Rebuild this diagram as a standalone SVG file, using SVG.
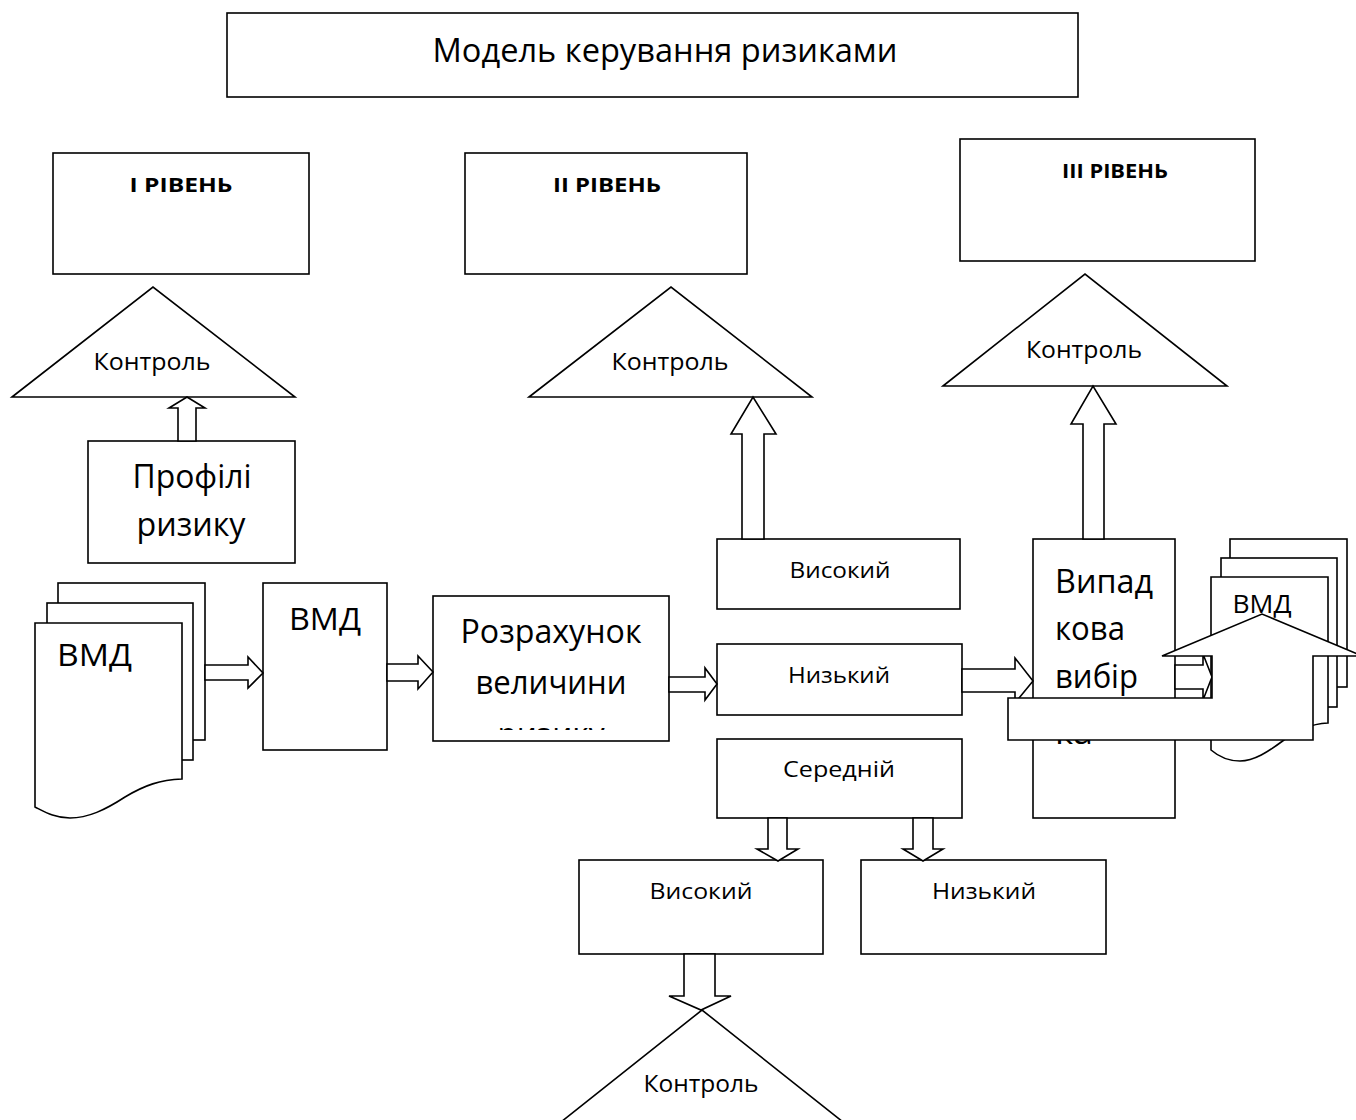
<svg xmlns="http://www.w3.org/2000/svg" width="1356" height="1120" viewBox="0 0 1356 1120">
<style>
.s{fill:#fff;stroke:#000;stroke-width:1.6;stroke-linejoin:miter}
.t{font-family:"Open Sans","Noto Sans","DejaVu Sans",sans-serif;fill:#000}
.c{text-anchor:middle}
.b{font-weight:bold}
</style>
<defs>
<clipPath id="clipCalc"><rect x="433" y="596" width="236" height="134"/></clipPath>
</defs>
<rect width="1356" height="1120" fill="#fff"/>

<g id="title">
<rect class="s" x="227" y="13" width="851" height="84"/>
<text class="t c" x="665" y="62" font-size="33" textLength="465" lengthAdjust="spacingAndGlyphs">Модель керування ризиками</text>
</g>

<g id="level1">
<rect class="s" x="53" y="153" width="256" height="121"/>
<text class="t c b" x="181" y="192" font-size="20" textLength="103" lengthAdjust="spacingAndGlyphs">І РІВЕНЬ</text>
</g>
<g id="level2">
<rect class="s" x="465" y="153" width="282" height="121"/>
<text class="t c b" x="607" y="192" font-size="20" textLength="108" lengthAdjust="spacingAndGlyphs">ІІ РІВЕНЬ</text>
</g>
<g id="level3">
<rect class="s" x="960" y="139" width="295" height="122"/>
<text class="t c b" x="1115" y="178" font-size="20" textLength="106" lengthAdjust="spacingAndGlyphs">ІІІ РІВЕНЬ</text>
</g>

<g id="control1">
<polygon class="s" points="12,397 153,287 295,397"/>
<text class="t c" x="152" y="370" font-size="24" textLength="117" lengthAdjust="spacingAndGlyphs">Контроль</text>
</g>
<g id="control2">
<polygon class="s" points="529,397 671,287 812,397"/>
<text class="t c" x="670" y="370" font-size="24" textLength="117" lengthAdjust="spacingAndGlyphs">Контроль</text>
</g>
<g id="control3">
<polygon class="s" points="943,386 1085,274 1227,386"/>
<text class="t c" x="1084" y="358" font-size="24" textLength="116" lengthAdjust="spacingAndGlyphs">Контроль</text>
</g>
<g id="control4">
<polygon class="s" points="561,1122 702,1010 843,1122"/>
<text class="t c" x="701" y="1092" font-size="24" textLength="115" lengthAdjust="spacingAndGlyphs">Контроль</text>
</g>

<g id="profiles">
<rect class="s" x="88" y="441" width="207" height="122"/>
<text class="t c" x="192" y="488" font-size="32" textLength="119" lengthAdjust="spacingAndGlyphs">Профілі</text>
<text class="t c" x="191" y="536" font-size="32" textLength="109" lengthAdjust="spacingAndGlyphs">ризику</text>
</g>

<g id="docs-left">
<rect class="s" x="58" y="583" width="147" height="157"/>
<rect class="s" x="47" y="603" width="146" height="157"/>
<path class="s" d="M35,623 H182 V779 C160,780 145,785 125,797 C105,810 88,818 70,818 C55,818 45,812 35,807 Z"/>
<text class="t" x="57" y="666" font-size="31" textLength="75" lengthAdjust="spacingAndGlyphs">ВМД</text>
</g>

<g id="vmd-box">
<rect class="s" x="263" y="583" width="124" height="167"/>
<text class="t c" x="325" y="630" font-size="31" textLength="72" lengthAdjust="spacingAndGlyphs">ВМД</text>
</g>

<g id="calc">
<rect class="s" x="433" y="596" width="236" height="145"/>
<text class="t c" x="551" y="643" font-size="32" textLength="181" lengthAdjust="spacingAndGlyphs">Розрахунок</text>
<text class="t c" x="551" y="694" font-size="32" textLength="151" lengthAdjust="spacingAndGlyphs">величини</text>
<text class="t c" x="551" y="746" font-size="32" textLength="107" lengthAdjust="spacingAndGlyphs" clip-path="url(#clipCalc)">ризику</text>
</g>

<g id="high1">
<rect class="s" x="717" y="539" width="243" height="70"/>
<text class="t c" x="840" y="578" font-size="22" textLength="101" lengthAdjust="spacingAndGlyphs">Високий</text>
</g>
<g id="low1">
<rect class="s" x="717" y="644" width="245" height="71"/>
<text class="t c" x="839" y="683" font-size="22" textLength="102" lengthAdjust="spacingAndGlyphs">Низький</text>
</g>
<g id="medium">
<rect class="s" x="717" y="739" width="245" height="79"/>
<text class="t c" x="839" y="777" font-size="22" textLength="112" lengthAdjust="spacingAndGlyphs">Середній</text>
</g>
<g id="high2">
<rect class="s" x="579" y="860" width="244" height="94"/>
<text class="t c" x="701" y="899" font-size="22" textLength="103" lengthAdjust="spacingAndGlyphs">Високий</text>
</g>
<g id="low2">
<rect class="s" x="861" y="860" width="245" height="94"/>
<text class="t c" x="984" y="899" font-size="22" textLength="104" lengthAdjust="spacingAndGlyphs">Низький</text>
</g>

<g id="sample">
<rect class="s" x="1033" y="539" width="142" height="279"/>
<text class="t" x="1055" y="593" font-size="32" textLength="98" lengthAdjust="spacingAndGlyphs">Випад</text>
<text class="t" x="1055" y="640" font-size="32" textLength="70" lengthAdjust="spacingAndGlyphs">кова</text>
<text class="t" x="1055" y="688" font-size="32" textLength="83" lengthAdjust="spacingAndGlyphs">вибір</text>
<text class="t" x="1055" y="744" font-size="32" textLength="38" lengthAdjust="spacingAndGlyphs">ка</text>
</g>

<g id="docs-right">
<rect class="s" x="1230" y="539" width="117" height="148"/>
<rect class="s" x="1221" y="558" width="116" height="149"/>
<path class="s" d="M1211,577 H1328 V723 C1310,724 1298,730 1284,740 C1268,752 1254,761 1240,761 C1228,761 1218,756 1211,750 Z"/>
<text class="t c" x="1262" y="613" font-size="25" textLength="59" lengthAdjust="spacingAndGlyphs">ВМД</text>
</g>

<g id="connectors">
<polygon class="s" points="178,441 178,408 169,408 187,397 205,408 196,408 196,441"/>
<polygon class="s" points="742,539 742,434 731,434 753,397 776,434 764,434 764,539"/>
<polygon class="s" points="1083,539 1083,424 1071,424 1093,386 1116,424 1104,424 1104,539"/>
<polygon class="s" points="205,665 248,665 248,657 263,673 248,688 248,680 205,680"/>
<polygon class="s" points="387,664 418,664 418,656 433,672 418,689 418,681 387,681"/>
<polygon class="s" points="669,677 705,677 705,668 717,684 705,700 705,692 669,692"/>
<polygon class="s" points="962,669 1015,669 1015,658 1033,681 1015,703 1015,692 962,692"/>
<polygon class="s" points="1175,665 1203,665 1203,654 1212,677 1203,700 1203,689 1175,689"/>
<polygon class="s" points="768,818 768,849 757,849 778,861 798,849 787,849 787,818"/>
<polygon class="s" points="913,818 913,849 903,849 923,861 943,849 933,849 933,818"/>
<polygon class="s" points="684,954 684,996 669,996 701,1010 731,996 715,996 715,954"/>
</g>

<g id="bent-arrow">
<polygon class="s" points="1008,698 1212,698 1212,656 1162,656 1262,614 1362,656 1313,656 1313,740 1008,740"/>
</g>
</svg>
